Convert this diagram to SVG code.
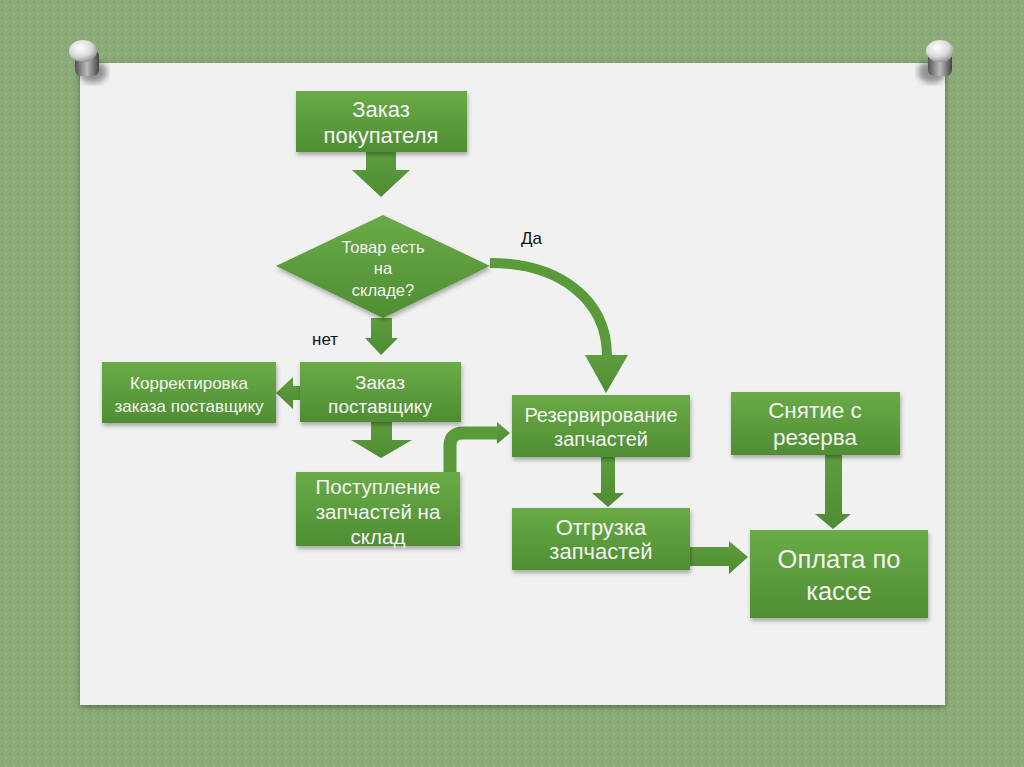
<svg xmlns="http://www.w3.org/2000/svg" width="1024" height="767" viewBox="0 0 1024 767">
<defs>
<linearGradient id="gbox" x1="0" y1="0" x2="0" y2="1">
<stop offset="0" stop-color="#6aab47"/>
<stop offset="1" stop-color="#4f8d33"/>
</linearGradient>
<linearGradient id="garr" x1="0" y1="0" x2="0" y2="1">
<stop offset="0" stop-color="#5f9e3e"/>
<stop offset="1" stop-color="#4e8b33"/>
</linearGradient>
<radialGradient id="pinTop" cx="0.4" cy="0.35" r="0.7">
<stop offset="0" stop-color="#ffffff"/>
<stop offset="0.6" stop-color="#d8d8d8"/>
<stop offset="1" stop-color="#8a8a8a"/>
</radialGradient>
<linearGradient id="pinBody" x1="0" y1="0" x2="1" y2="0">
<stop offset="0" stop-color="#555"/>
<stop offset="0.5" stop-color="#bbb"/>
<stop offset="1" stop-color="#444"/>
</linearGradient>
<filter id="sh" x="-10%" y="-10%" width="120%" height="130%">
<feDropShadow dx="1" dy="3" stdDeviation="2" flood-color="#000" flood-opacity="0.3"/>
</filter>
<filter id="psh" x="-5%" y="-5%" width="110%" height="110%">
<feDropShadow dx="0" dy="2" stdDeviation="3" flood-color="#000" flood-opacity="0.35"/>
</filter>
<filter id="blur"><feGaussianBlur stdDeviation="3"/></filter>
<pattern id="tex" width="8" height="8" patternUnits="userSpaceOnUse">
<rect width="8" height="8" fill="#8bab79"/>
<circle cx="2" cy="2" r="1" fill="#7f9f6d"/>
<circle cx="6" cy="6" r="1" fill="#98b886"/>
</pattern>
</defs>
<style>
.box{fill:url(#gbox);filter:url(#sh)}
.arr{fill:url(#garr)}
.t{fill:#f4f4f4;font-family:"Liberation Sans",Arial,sans-serif;text-anchor:middle}
.lbl{fill:#111;font-family:"Liberation Sans",Arial,sans-serif;font-size:17px}
</style>
<rect width="1024" height="767" fill="url(#tex)"/>
<rect x="80" y="63" width="865" height="642" fill="#f1f1f1" filter="url(#psh)"/>
<g id="pins">
<ellipse cx="93" cy="72" rx="14" ry="11" fill="#333" opacity="0.5" filter="url(#blur)"/>
<rect x="75" y="50" width="24" height="26" rx="6" fill="url(#pinBody)"/>
<ellipse cx="83" cy="51" rx="14" ry="11" fill="url(#pinTop)"/>
<ellipse cx="932" cy="72" rx="14" ry="11" fill="#333" opacity="0.5" filter="url(#blur)"/>
<rect x="928" y="50" width="24" height="26" rx="6" fill="url(#pinBody)"/>
<ellipse cx="940" cy="51" rx="14" ry="11" fill="url(#pinTop)"/>
</g>
<g id="connectors">
<polygon class="arr" points="366,152 396,152 396,170 410,170 381,197 352,170 366,170"/>
<polygon class="arr" points="371,318 392,318 392,338 398,338 381,355 365,338 371,338"/>
<polygon class="arr" points="300,386 293,386 293,377 276,393 293,409 293,400 300,400"/>
<polygon class="arr" points="371,422 392,422 392,440 412,440 381,458 351,440 371,440"/>
<path d="M450,472 L450,446 Q450,433 463,433 L498,433" fill="none" stroke="#5a9a3a" stroke-width="13"/>
<polygon class="arr" points="497,422 510,433 497,444"/>
<path d="M490,263 C560,263 607,300 607,356" fill="none" stroke="#5a9a3a" stroke-width="10"/>
<polygon class="arr" points="585,355 628,355 606,393"/>
<polygon class="arr" points="601,457 615,457 615,493 624,493 608,507 592,493 601,493"/>
<polygon class="arr" points="690,547 729,547 729,541 748,557 729,574 729,566 690,566"/>
<polygon class="arr" points="825,455 842,455 842,514 851,514 833,529 815,514 825,514"/>
</g>
<g id="n1"><rect class="box" x="296" y="91" width="171" height="61"/>
<text class="t" font-size="22" x="381" y="117">Заказ</text>
<text class="t" font-size="22" x="381" y="143">покупателя</text></g>
<g id="n2"><polygon points="383,215 490,266 383,318 276,266" fill="url(#gbox)" filter="url(#sh)"/>
<text class="t" font-size="16.5" x="383" y="253">Товар есть</text>
<text class="t" font-size="16.5" x="383" y="274">на</text>
<text class="t" font-size="16.5" x="383" y="296">складе?</text></g>
<g id="n3"><rect class="box" x="300" y="362" width="161" height="60"/>
<text class="t" font-size="19" x="380" y="389">Заказ</text>
<text class="t" font-size="19" x="380" y="413">поставщику</text></g>
<g id="n4"><rect class="box" x="102" y="362" width="174" height="61"/>
<text class="t" font-size="17" x="189" y="389">Корректировка</text>
<text class="t" font-size="17" x="189" y="412">заказа поставщику</text></g>
<g id="n5"><rect class="box" x="296" y="472" width="164" height="74"/>
<text class="t" font-size="20.5" x="378" y="494">Поступление</text>
<text class="t" font-size="20.5" x="378" y="519">запчастей на</text>
<text class="t" font-size="20.5" x="378" y="544">склад</text></g>
<g id="n6"><rect class="box" x="512" y="395" width="178" height="62"/>
<text class="t" font-size="20" x="601" y="422">Резервирование</text>
<text class="t" font-size="20" x="601" y="446">запчастей</text></g>
<g id="n7"><rect class="box" x="512" y="508" width="178" height="62"/>
<text class="t" font-size="22" x="601" y="535">Отгрузка</text>
<text class="t" font-size="22" x="601" y="559">запчастей</text></g>
<g id="n8"><rect class="box" x="731" y="392" width="169" height="63"/>
<text class="t" font-size="22.5" x="815" y="418">Снятие с</text>
<text class="t" font-size="22.5" x="815" y="445">резерва</text></g>
<g id="n9"><rect class="box" x="750" y="530" width="178" height="88"/>
<text class="t" font-size="25.5" x="839" y="568">Оплата по</text>
<text class="t" font-size="25.5" x="839" y="600">кассе</text></g>
<text class="lbl" x="521" y="244">Да</text>
<text class="lbl" x="312" y="345">нет</text>
</svg>
